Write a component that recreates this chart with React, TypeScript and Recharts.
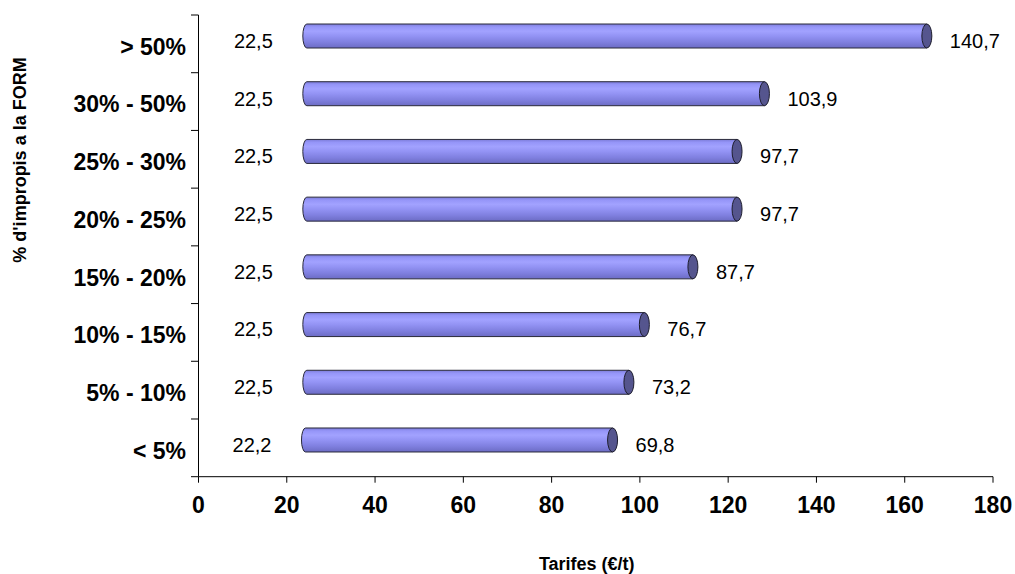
import React from 'react';
import { BarChart, Bar, XAxis, YAxis, LabelList, Label } from 'recharts';

// Waste-fraction bands (top to bottom) and the tariff split per band
const categories = ['> 50%', '30% - 50%', '25% - 30%', '20% - 25%', '15% - 20%', '10% - 15%', '5% - 10%', '< 5%'];
const baseValues = [22.5, 22.5, 22.5, 22.5, 22.5, 22.5, 22.5, 22.2];
const tariffValues = [140.7, 103.9, 97.7, 97.7, 87.7, 76.7, 73.2, 69.8];
const xTicks = [0, 20, 40, 60, 80, 100, 120, 140, 160, 180];

const data = categories.map((name, i) => ({ name, base: baseValues[i], tariff: tariffValues[i] }));

const W = 1015;
const H = 574;
const MARGIN = { top: 15, right: 22, left: 0, bottom: 0 };
const Y_AXIS_W = 198.5;
const X_AXIS_H = 97.3;
const AXIS_X = MARGIN.left + Y_AXIS_W;
const PLOT_H = H - MARGIN.top - MARGIN.bottom - X_AXIS_H;
const BAND = PLOT_H / categories.length;
const FONT = "Arial, 'Liberation Sans', sans-serif";

const fmt = (v: number) => v.toFixed(1).replace('.', ',');

// Category tick: bold label plus boundary tick marks between bands
const YTick = (props: any) => {
  const { y, payload, index } = props;
  const top = y - BAND / 2;
  return (
    <g>
      <line x1={AXIS_X - 7.5} x2={AXIS_X} y1={top} y2={top} stroke="#000" strokeWidth={1} />
      {index === categories.length - 1 && (
        <line x1={AXIS_X - 7.5} x2={AXIS_X} y1={top + BAND} y2={top + BAND} stroke="#000" strokeWidth={1} />
      )}
      <text
        x={AXIS_X - 12.5}
        y={y + 2.6}
        dy="0.36em"
        textAnchor="end"
        fontFamily={FONT}
        fontWeight="bold"
        fontSize={23}
        fill="#000"
      >
        {payload.value}
      </text>
    </g>
  );
};

// Horizontal cylinder drawn over the tariff segment
const Cylinder = (props: any) => {
  const { x, y, width, height, index } = props;
  if (width == null || width <= 0) return null;
  const h = height;
  const cy = y + h / 2 - 8;
  const top = cy - h / 2;
  const bottom = cy + h / 2;
  const ry = h / 2;
  const x0 = x + 5;
  const r = 4;
  const xc = x + width + 8;
  const gid = `cyl-body-${index}`;
  return (
    <g>
      <defs>
        <linearGradient id={gid} x1="0" y1="0" x2="0" y2="1">
          <stop offset="0" stopColor="#7c7cd8" />
          <stop offset="0.12" stopColor="#9595f8" />
          <stop offset="0.3" stopColor="#a2a2ff" />
          <stop offset="0.5" stopColor="#9393f4" />
          <stop offset="0.75" stopColor="#8080e0" />
          <stop offset="1" stopColor="#6c6cc4" />
        </linearGradient>
      </defs>
      <path
        d={`M ${x0 + r} ${top} L ${xc} ${top} L ${xc} ${bottom} L ${x0 + r} ${bottom} A ${r} ${ry} 0 0 1 ${x0 + r} ${top} Z`}
        fill={`url(#${gid})`}
        stroke="#2a2a3a"
        strokeWidth={1}
      />
      <ellipse cx={xc} cy={cy} rx={5} ry={ry} fill="#55558e" stroke="#1e1e2e" strokeWidth={1} />
    </g>
  );
};

const BaseLabel = (props: any) => {
  const { x, y, width, height, value } = props;
  return (
    <text
      x={x + width - 25}
      y={y + height / 2 - 3.4}
      dy="0.36em"
      textAnchor="end"
      fontFamily={FONT}
      fontSize={20}
      fill="#000"
    >
      {fmt(value)}
    </text>
  );
};

const TariffLabel = (props: any) => {
  const { x, y, width, height, value } = props;
  return (
    <text
      x={x + width + 31}
      y={y + height / 2 - 3.4}
      dy="0.36em"
      textAnchor="start"
      fontFamily={FONT}
      fontSize={20}
      fill="#000"
    >
      {fmt(value)}
    </text>
  );
};

const XTitle = (props: any) => {
  const { viewBox } = props;
  const cx = viewBox.x + viewBox.width / 2 - 9;
  return (
    <text x={cx} y={564} dy="0.36em" textAnchor="middle" fontFamily={FONT} fontWeight="bold" fontSize={18} fill="#000">
      Tarifes (€/t)
    </text>
  );
};

const YTitle = () => (
  <text
    x={20}
    y={160}
    dy="0.36em"
    textAnchor="middle"
    transform="rotate(-90 20 160)"
    fontFamily={FONT}
    fontWeight="bold"
    fontSize={18}
    fill="#000"
  >
    % d'impropis a la FORM
  </text>
);

export default function App() {
  return (
    <div style={{ position: 'absolute', left: 0, top: 0, width: W, height: H, background: '#fff' }}>
      <BarChart width={W} height={H} data={data} layout="vertical" margin={MARGIN} barSize={24}>
        <XAxis
          type="number"
          domain={[0, 180]}
          ticks={xTicks}
          interval={0}
          height={X_AXIS_H}
          tickSize={6}
          tickMargin={14}
          axisLine={{ stroke: '#000' }}
          tickLine={{ stroke: '#000' }}
          tick={{ fontFamily: FONT, fontWeight: 'bold', fontSize: 23, fill: '#000' }}
        >
          <Label content={<XTitle />} />
        </XAxis>
        <YAxis
          type="category"
          dataKey="name"
          width={Y_AXIS_W}
          axisLine={{ stroke: '#000' }}
          tickLine={false}
          tick={<YTick />}
          interval={0}
        >
          <Label content={<YTitle />} />
        </YAxis>
        <Bar dataKey="base" stackId="t" fill="none" isAnimationActive={false}>
          <LabelList dataKey="base" content={<BaseLabel />} />
        </Bar>
        <Bar dataKey="tariff" stackId="t" shape={<Cylinder />} isAnimationActive={false}>
          <LabelList dataKey="tariff" content={<TariffLabel />} />
        </Bar>
      </BarChart>
    </div>
  );
}
